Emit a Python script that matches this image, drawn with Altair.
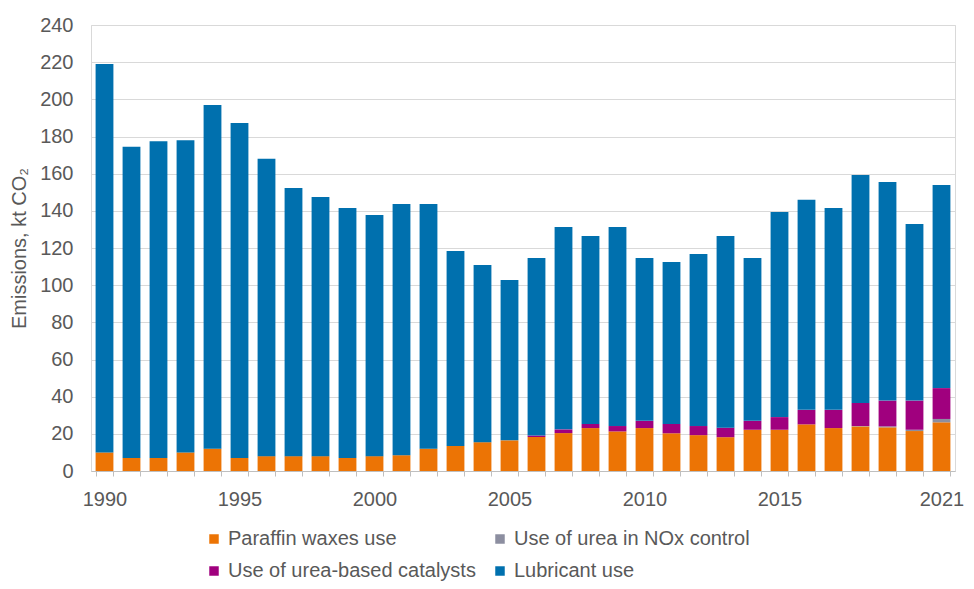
import altair as alt
import pandas as pd

years = list(range(1990, 2022))
totals = [219, 174.5, 177.5, 178, 197, 187.3, 168, 152.3, 147.5, 141.5, 137.8, 143.7,
          143.7, 118.4, 110.9, 102.8, 114.6, 131.3, 126.5, 131.3, 114.6, 112.5, 116.8,
          126.5, 114.6, 139.4, 145.9, 141.5, 159.3, 155.5, 132.9, 153.9]
paraffin = [10, 7, 7, 10, 12, 7, 8, 8, 8, 7, 8, 8.5, 12, 13.5, 15.5, 16.5, 18.3, 20.4,
            23.1, 21.3, 23.1, 20.3, 19.3, 18.2, 22.2, 22.2, 25.1, 23.1, 24, 23.5, 21.5, 26.2]
urea_nox = [0] * 28 + [0.2, 0.5, 0.7, 1.8]
catalysts = [0] * 16 + [0.8, 2, 2.2, 2.9, 3.9, 5, 4.9, 5.1, 4.8, 6.8, 7.8, 9.8, 12.4,
                        13.9, 15.7, 16.6]
lubricant = [round(t - p - n - c, 2) for t, p, n, c in zip(totals, paraffin, urea_nox, catalysts)]

# stacking order (bottom to top)
series = ["Paraffin waxes use", "Use of urea in NOx control",
          "Use of urea-based catalysts", "Lubricant use"]
series_colors = {"Paraffin waxes use": "#EC7405",
                 "Use of urea in NOx control": "#8C8EA0",
                 "Use of urea-based catalysts": "#A0007E",
                 "Lubricant use": "#0070AE"}
# legend order (column-major fill of a 2-column legend)
legend_order = ["Paraffin waxes use", "Use of urea-based catalysts",
                "Use of urea in NOx control", "Lubricant use"]

rows = []
for i, y in enumerate(years):
    for k, (name, vals) in enumerate(zip(series, [paraffin, urea_nox, catalysts, lubricant])):
        rows.append({"year": y, "series": name, "value": vals[i], "order": k})
df = pd.DataFrame(rows)

FONT = "Liberation Sans"
GREY = "#595959"

chart = alt.Chart(df).mark_bar().encode(
    x=alt.X("year:O",
            scale=alt.Scale(paddingInner=0.34, paddingOuter=0.17),
            axis=alt.Axis(title=None, labelAngle=0, tickBand="extent", tickSize=5,
                          tickColor="#bfbfbf", domainColor="#bfbfbf",
                          labelPadding=13, labelFontSize=20, labelColor=GREY, labelFont=FONT,
                          labelExpr="(datum.value % 5 == 0 && datum.value != 2020) || datum.value == 2021 ? datum.label : ''")),
    y=alt.Y("value:Q", stack="zero",
            scale=alt.Scale(domain=[0, 240], nice=False),
            axis=alt.Axis(title="Emissions, kt CO₂", values=list(range(0, 241, 20)),
                          domain=False, ticks=False, labelPadding=18, labelFontSize=20,
                          labelColor=GREY, labelFont=FONT, gridColor="#d9d9d9",
                          titleFont=FONT, titleFontSize=20, titleColor=GREY,
                          titleFontWeight="normal", titleAngle=-90,
                          titleX=-72, titleY=223, titleAlign="center", titleBaseline="middle")),
    color=alt.Color("series:N",
                    scale=alt.Scale(domain=legend_order,
                                    range=[series_colors[s] for s in legend_order]),
                    legend=alt.Legend(title=None, orient="none", legendX=113, legendY=504,
                                      columns=2, columnPadding=14, rowPadding=12,
                                      symbolType="square", symbolSize=90, symbolStrokeWidth=0,
                                      labelFont=FONT, labelFontSize=20, labelColor=GREY,
                                      labelOffset=4, labelLimit=400)),
    order=alt.Order("order:Q", sort="ascending"),
).properties(
    width=864, height=446,
    autosize=alt.AutoSizeParams(type="none"),
    padding={"left": 83, "top": 17, "right": 11, "bottom": 110},
).configure_view(stroke="#d9d9d9", strokeWidth=1)

chart.save("out.html", embed_options={"renderer": "svg", "actions": False})
